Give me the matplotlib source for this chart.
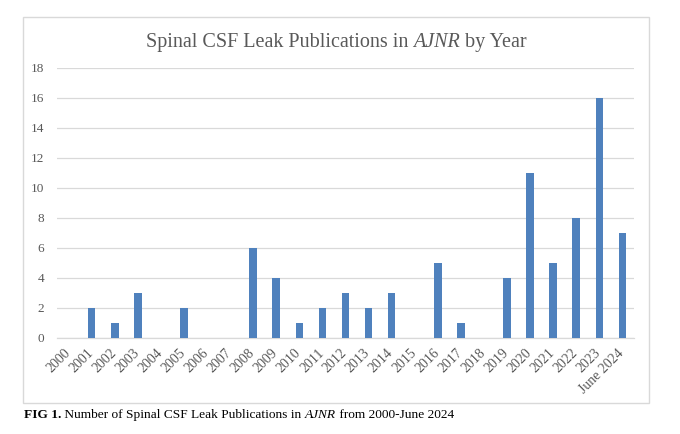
import matplotlib
matplotlib.use("Agg")
import matplotlib.pyplot as plt
import matplotlib.transforms as mtransforms
from matplotlib.patches import Rectangle

# Data
years = ['2000', '2001', '2002', '2003', '2004', '2005', '2006', '2007',
         '2008', '2009', '2010', '2011', '2012', '2013', '2014', '2015',
         '2016', '2017', '2018', '2019', '2020', '2021', '2022', '2023',
         'June 2024']
publications = [0, 2, 1, 3, 0, 2, 0, 0, 6, 4, 1, 2, 3, 2, 3, 0, 5, 1, 0, 4,
                11, 5, 8, 16, 7]
y_ticks = list(range(0, 19, 2))

W, H = 680, 434
GRAY = '#595959'
GRID = '#d9d9d9'
BLUE = '#4f81bd'
SERIF = 'Liberation Serif'


def draw_runs(fig, x, y, runs, ha='left', **kw):
    """Draw text pieces with different styles next to each other (x, y in px)."""
    renderer = fig.canvas.get_renderer()
    texts = []
    for s, style in runs:
        t = fig.text(0, 0, s, transform=None, **kw, **style)
        texts.append(t)
    widths = [t.get_window_extent(renderer).width for t in texts]
    total = sum(widths)
    if ha == 'center':
        x = x - total / 2
    for t, w in zip(texts, widths):
        t.set_position((x, y))
        x += w


fig = plt.figure(figsize=(W / 100, H / 100), dpi=100)
fig.patch.set_facecolor('white')

# chart frame
fig.patches.append(Rectangle((23 / W, 1 - 403 / H), (649 - 23) / W, (403 - 17) / H,
                             transform=fig.transFigure, fill=False,
                             edgecolor=GRID, linewidth=1.0))

ax = fig.add_axes([57 / W, 1 - 338 / H, (634 - 57) / W, (338 - 68) / H])
x = range(len(years))
ax.bar(x, publications, width=0.33, color=BLUE, zorder=3)

ax.set_xlim(-0.5, len(years) - 0.5)
ax.set_ylim(0, 18)
ax.set_yticks(y_ticks)
ax.set_yticklabels([str(v) for v in y_ticks], fontsize=9.5, color=GRAY, family=SERIF)
ax.set_xticks(list(x))
ax.set_xticklabels(years, rotation=45, ha='right', fontsize=10, color=GRAY, family=SERIF)
ax.tick_params(axis='y', length=0, pad=9)
ax.tick_params(axis='x', length=0, pad=6)
offset = mtransforms.ScaledTranslation(4 / 100, 0, fig.dpi_scale_trans)
for lab in ax.get_xticklabels():
    lab.set_transform(lab.get_transform() + offset)

ax.grid(axis='y', color=GRID, linewidth=0.9, zorder=0)
for side in ['top', 'right', 'left']:
    ax.spines[side].set_visible(False)
ax.spines['bottom'].set_color(GRID)
ax.spines['bottom'].set_linewidth(0.9)

# title with italic journal name
draw_runs(fig, 336, H - 47,
          [('Spinal CSF Leak Publications in ', {}),
           ('AJNR', {'style': 'italic'}),
           (' by Year', {})],
          ha='center', fontsize=14.5, color=GRAY, family=SERIF)

# caption below the frame
draw_runs(fig, 24, H - 418,
          [('FIG 1.', {'weight': 'bold'}),
           (' Number of Spinal CSF Leak Publications in ', {}),
           ('AJNR', {'style': 'italic'}),
           (' from 2000-June 2024', {})],
          fontsize=9.6, color='black', family=SERIF)

fig.savefig('out.png', dpi=100)
